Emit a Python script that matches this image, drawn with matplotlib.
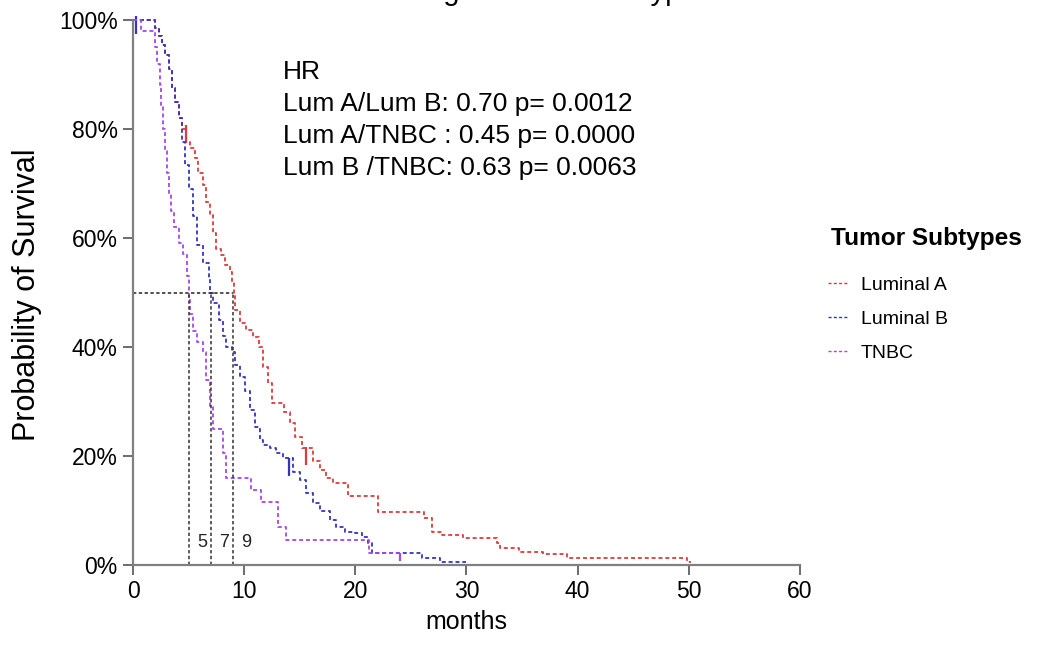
import numpy as np
import matplotlib
matplotlib.use("Agg")
import matplotlib.pyplot as plt
from matplotlib.lines import Line2D
from matplotlib.ticker import FuncFormatter

plt.rcParams['font.family'] = ['Liberation Sans', 'DejaVu Sans']

# Kaplan-Meier step points (months, survival fraction)
luma_t = [0, 2.0, 2.3, 2.6, 2.9, 3.2, 3.5, 3.8, 4.1, 4.4,
          4.8, 5.1, 5.6, 5.85, 6.3, 6.6, 6.9, 7.2, 7.5, 7.95,
          8.3, 8.7, 8.9, 9.05, 9.2, 9.6, 10.2, 10.8, 11.3, 11.7,
          12.1, 12.5, 13.6, 14.1, 14.6, 15.2, 16.2, 16.8, 17.4, 18.0,
          19.3, 22.0, 26.2, 26.9, 27.8, 29.7, 32.7, 33.0, 34.7, 36.9,
          39.0, 49.8, 50.2]
luma_s = [1.0, 0.985, 0.97, 0.955, 0.935, 0.91, 0.875, 0.85, 0.82, 0.80,
          0.776, 0.765, 0.747, 0.72, 0.697, 0.666, 0.642, 0.61, 0.58, 0.569,
          0.55, 0.538, 0.52, 0.50, 0.468, 0.444, 0.431, 0.418, 0.40, 0.363,
          0.334, 0.297, 0.28, 0.26, 0.235, 0.214, 0.19, 0.174, 0.16, 0.151,
          0.127, 0.097, 0.086, 0.06, 0.055, 0.05, 0.04, 0.031, 0.024, 0.02,
          0.013, 0.006, 0.006]

lumb_t = [0, 2.0, 2.3, 2.6, 2.9, 3.2, 3.5, 3.8, 4.1, 4.4,
          4.7, 5.0, 5.4, 5.8, 6.3, 6.8, 6.95, 7.2, 7.7, 8.1,
          8.4, 8.9, 9.2, 9.6, 10.1, 10.5, 11.0, 11.4, 11.7, 12.3,
          12.9, 13.5, 14.4, 15.0, 15.6, 16.2, 16.8, 17.7, 18.3, 19.1,
          20.0, 20.6, 21.1, 21.5, 26.0, 27.6, 30.0]
lumb_s = [1.0, 0.985, 0.97, 0.955, 0.935, 0.91, 0.875, 0.85, 0.82, 0.776,
          0.734, 0.69, 0.64, 0.587, 0.554, 0.527, 0.50, 0.48, 0.45, 0.42,
          0.40, 0.39, 0.367, 0.345, 0.32, 0.284, 0.253, 0.23, 0.22, 0.215,
          0.205, 0.196, 0.17, 0.156, 0.132, 0.114, 0.10, 0.083, 0.07, 0.061,
          0.058, 0.052, 0.04, 0.022, 0.013, 0.006, 0.006]

tnbc_t = [0, 0.7, 2.0, 2.2, 2.4, 2.5, 2.7, 2.9, 3.1, 3.25,
          3.4, 3.7, 4.1, 4.5, 4.85, 5.0, 5.1, 5.4, 5.8, 6.3,
          6.6, 6.9, 7.2, 8.1, 8.4, 10.6, 11.5, 13.0, 13.8, 21.2,
          24.0]
tnbc_s = [1.0, 0.98, 0.95, 0.92, 0.88, 0.84, 0.80, 0.76, 0.72, 0.68,
          0.65, 0.62, 0.59, 0.57, 0.53, 0.49, 0.46, 0.43, 0.41, 0.39,
          0.34, 0.29, 0.25, 0.205, 0.16, 0.137, 0.116, 0.07, 0.046, 0.022,
          0.022]

# censoring marks
luma_cens_t = [4.75, 15.6]
luma_cens_s = [0.79, 0.20]
lumb_cens_t = [0.25, 14.0]
lumb_cens_s = [0.99, 0.18]
tnbc_cens_t = [24.0]
tnbc_cens_s = [0.015]

medians = [5, 7, 9]
median_labels = ['5', '7', '9']

labels = ['Luminal A', 'Luminal B', 'TNBC']
colors = ['#e03a3a', '#3434c4', '#a447ec']

hr_lines = ['HR',
            'Lum A/Lum B: 0.70 p= 0.0012',
            'Lum A/TNBC : 0.45 p= 0.0000',
            'Lum B /TNBC: 0.63 p= 0.0063']

W, H = 1038, 655
fig = plt.figure(figsize=(W / 100, H / 100), dpi=100)
ax = fig.add_axes([133 / W, 1 - 565 / H, 667 / W, 545 / H])

dash = (0, (2.2, 1.6))
series = [(luma_t, luma_s, luma_cens_t, luma_cens_s, 13),
          (lumb_t, lumb_s, lumb_cens_t, lumb_cens_s, 13),
          (tnbc_t, tnbc_s, tnbc_cens_t, tnbc_cens_s, 6)]
for (t, s, ct, cs, ms), c in zip(series, colors):
    ax.plot(t, s, drawstyle='steps-post', color=c, lw=1.3, ls=dash, clip_on=False)
    ax.plot(ct, cs, ls='none', marker='|', ms=ms, mew=1.6, color=c, clip_on=False)

# median survival guides
ax.hlines(0.5, 0, max(medians), colors='#222222', lw=1.1, linestyles=[dash])
ax.vlines(medians, 0, 0.5, colors='#333333', lw=1.1, linestyles=[dash])
for m, lab in zip(medians, median_labels):
    ax.text(m + 1.2, 0.042, lab, ha='center', va='center', fontsize=13, color='#222222')

ax.set_xlim(0, 60)
ax.set_ylim(0, 1)
ax.set_xticks(np.arange(0, 61, 10))
ax.set_yticks(np.arange(0, 1.01, 0.2))
ax.yaxis.set_major_formatter(FuncFormatter(lambda v, p: f'{v * 100:.0f}%'))
for side in ['top', 'right']:
    ax.spines[side].set_visible(False)
for side in ['left', 'bottom']:
    ax.spines[side].set_color('#808080')
    ax.spines[side].set_linewidth(1.6)
ax.tick_params(direction='out', length=7, width=1.3, color='#606060',
               labelsize=16.5, pad=4, labelcolor='black')

ax.set_xlabel('months', fontsize=18)
ax.xaxis.set_label_coords(0.5, -0.083)
ax.set_ylabel('Probability of Survival', fontsize=22)
ax.yaxis.set_label_coords(-0.136, 0.495)

# title sits mostly above the top edge in the original, only descenders show
fig.text(467 / W, 1.0, 'Survival according to Tumor Subtypes',
         ha='center', va='baseline', fontsize=21)

# HR annotation
for i, line in enumerate(hr_lines):
    fig.text(283 / W, 1 - (72 + 32 * i) / H, line, ha='left', va='center', fontsize=19)

# legend
fig.text(831 / W, 1 - 238 / H, 'Tumor Subtypes', ha='left', va='center',
         fontsize=17.6, fontweight='bold')
handles = [Line2D([], [], color=c, lw=1.0, ls=dash) for c in colors]
fig.legend(handles, labels, loc='upper left', bbox_to_anchor=(828 / W, 1 - 276 / H),
           frameon=False, fontsize=14, handlelength=1.0, handletextpad=0.7,
           labelspacing=0.86, borderpad=0, borderaxespad=0)

fig.savefig('out.png', dpi=100)
